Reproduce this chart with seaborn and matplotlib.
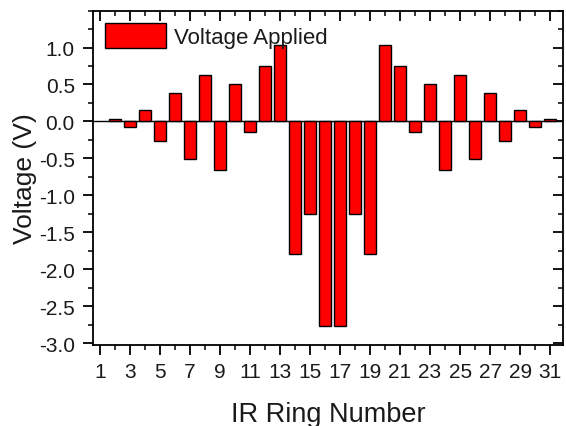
import matplotlib
matplotlib.use("Agg")
import matplotlib.pyplot as plt
import seaborn as sns
import pandas as pd
from matplotlib.ticker import MultipleLocator

rings = list(range(2, 32))
voltages = [0.03, -0.08, 0.16, -0.26, 0.38, -0.51, 0.63, -0.66, 0.51, -0.14,
            0.75, 1.03, -1.79, -1.25, -2.76, -2.76, -1.25, -1.79, 1.03, 0.75,
            -0.14, 0.51, -0.66, 0.63, -0.51, 0.38, -0.26, 0.16, -0.08, 0.03]
xticks = list(range(1, 32, 2))
yticks = [1.0, 0.5, 0.0, -0.5, -1.0, -1.5, -2.0, -2.5, -3.0]

df = pd.DataFrame({"ring": rings, "voltage": voltages})

sns.set_style("ticks")
plt.rcParams["font.family"] = ["Liberation Sans", "DejaVu Sans"]
plt.rcParams["text.color"] = "#1a1a1a"
plt.rcParams["axes.labelcolor"] = "#1a1a1a"
plt.rcParams["xtick.color"] = "black"
plt.rcParams["ytick.color"] = "black"
plt.rcParams["xtick.labelcolor"] = "#1a1a1a"
plt.rcParams["ytick.labelcolor"] = "#1a1a1a"

fig = plt.figure(figsize=(5.66, 4.27), dpi=100)
ax = fig.add_axes([0.164, 0.19, 0.831, 0.783])

sns.barplot(data=df, x="ring", y="voltage", native_scale=True, width=0.75,
            color="#ff0000", edgecolor="black", linewidth=1.0, saturation=1,
            label="Voltage Applied", ax=ax, zorder=3)
ax.axhline(0, color="black", lw=1.0, zorder=2)

ax.set_xlim(0.53, 31.87)
ax.set_ylim(-3.02, 1.5)
ax.set_xticks(xticks)
ax.set_xticklabels([str(t) for t in xticks])
ax.xaxis.set_minor_locator(MultipleLocator(1))
ax.set_yticks(yticks)
ax.set_yticklabels([f"{t:.1f}" for t in yticks])
ax.yaxis.set_minor_locator(MultipleLocator(0.25))

for s in ax.spines.values():
    s.set_visible(True)
    s.set_linewidth(1.3)
    s.set_color("black")

ax.tick_params(axis="both", which="major", direction="out", length=7, width=1.3,
               labelsize=15, top=True, right=True)
ax.tick_params(axis="both", which="minor", direction="out", length=3.5, width=1.1,
               top=True, right=True)
ax.tick_params(axis="x", which="major", pad=5)
ax.tick_params(axis="y", which="major", pad=6)
for t in ax.xaxis.get_major_ticks() + ax.xaxis.get_minor_ticks():
    t.tick2line.set_marker(3)  # inward at top
for t in ax.yaxis.get_major_ticks() + ax.yaxis.get_minor_ticks():
    t.tick2line.set_marker(0)  # inward at right

ax.set_xlabel("IR Ring Number", fontsize=19.5, labelpad=15)
ax.set_ylabel("Voltage (V)", fontsize=19, labelpad=1)

leg = ax.legend(loc="upper left", frameon=False, fontsize=16, handlelength=2.75,
                handleheight=1.35, borderaxespad=0.15, handletextpad=0.35)

fig.savefig("out.png", dpi=100)
